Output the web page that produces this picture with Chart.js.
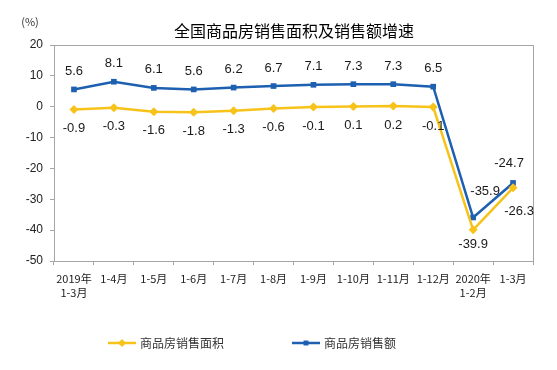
<!DOCTYPE html>
<html>
<head>
<meta charset="utf-8">
<script src="https://cdn.jsdelivr.net/npm/chart.js@4.4.1/dist/chart.umd.min.js"></script>
<style>
    html, body { margin: 0; padding: 0; background: #fff; }
    #wrap { width: 557px; height: 370px; }
</style>
</head>
<body>
<div id="wrap"><canvas id="myChart" width="557" height="370"></canvas></div>
<script>
var Months = [['2019年', '1-3月'], '1-4月', '1-5月', '1-6月', '1-7月', '1-8月', '1-9月', '1-10月', '1-11月', '1-12月', ['2020年', '1-2月'], '1-3月'];
var AreaGrowth = [-0.9, -0.3, -1.6, -1.8, -1.3, -0.6, -0.1, 0.1, 0.2, -0.1, -39.9, -26.3];
var SalesGrowth = [5.6, 8.1, 6.1, 5.6, 6.2, 6.7, 7.1, 7.3, 7.3, 6.5, -35.9, -24.7];
var YTicks = [20, 10, 0, -10, -20, -30, -40, -50];

var TITLE = '全国商品房销售面积及销售额增速';
var AREA_NAME = '商品房销售面积';
var SALES_NAME = '商品房销售额';

var YELLOW = '#F7C31A';
var BLUE = '#1D5FB0';
var AXIS = '#A6A6A6';
var CJK = '"Noto Sans CJK SC", "Noto Sans", sans-serif';
var LATIN = '"Liberation Sans", Arial, sans-serif';

// value labels, title, (%) and legend
const extras = {
    id: 'extras',
    afterDatasetsDraw(chart) {
        const ctx = chart.ctx;
        const area = chart.chartArea;
        ctx.save();

        // plot box
        ctx.strokeStyle = AXIS;
        ctx.lineWidth = 1;
        ctx.strokeRect(Math.round(area.left) + 0.5, Math.round(area.top) + 0.5,
            Math.round(area.right - area.left), Math.round(area.bottom - area.top));

        // value labels
        ctx.font = '13px ' + LATIN;
        ctx.fillStyle = '#1a1a1a';
        ctx.textAlign = 'center';
        ctx.textBaseline = 'middle';
        const last = Months.length - 1;
        chart.getDatasetMeta(1).data.forEach(function (pt, i) {
            let dx = 0, dy = -18;
            if (i === last - 1) { dx = 12; dy = -26; }
            if (i === last) { dx = -4; dy = -20; }
            ctx.fillText(SalesGrowth[i].toFixed(1), pt.x + dx, pt.y + dy);
        });
        chart.getDatasetMeta(0).data.forEach(function (pt, i) {
            let dx = 0, dy = 19;
            if (i === last - 1) { dy = 15; }
            if (i === last) { dx = 6; dy = 24; }
            ctx.fillText(AreaGrowth[i].toFixed(1), pt.x + dx, pt.y + dy);
        });

        // title
        ctx.font = '16px ' + CJK;
        ctx.fillStyle = '#000';
        ctx.fillText(TITLE, 294, 31);

        // unit
        ctx.font = '11px ' + CJK;
        ctx.fillStyle = '#333';
        ctx.fillText('(%)', 30, 22);

        // legend
        const items = [
            { x: 108, name: AREA_NAME, color: YELLOW, style: 'rectRot', r: 4 },
            { x: 292, name: SALES_NAME, color: BLUE, style: 'rect', r: 3.5 }
        ];
        items.forEach(function (it) {
            const y = 343;
            ctx.strokeStyle = it.color;
            ctx.lineWidth = 2.5;
            ctx.beginPath();
            ctx.moveTo(it.x, y);
            ctx.lineTo(it.x + 28, y);
            ctx.stroke();
            ctx.fillStyle = it.color;
            Chart.helpers.drawPoint(ctx, { pointStyle: it.style, radius: it.r, rotation: 0 }, it.x + 14, y);
            ctx.font = '12px ' + CJK;
            ctx.fillStyle = '#333';
            ctx.textAlign = 'left';
            ctx.fillText(it.name, it.x + 32, y);
        });
        ctx.restore();
    }
};

function initchart() {
    const data = {
        labels: Months,
        datasets: [
            {
                label: AREA_NAME,
                data: AreaGrowth,
                borderColor: YELLOW,
                backgroundColor: YELLOW,
                borderWidth: 2.5,
                pointStyle: 'rectRot',
                pointRadius: 4.5,
                pointBorderWidth: 0,
                tension: 0
            },
            {
                label: SALES_NAME,
                data: SalesGrowth,
                borderColor: BLUE,
                backgroundColor: BLUE,
                borderWidth: 2.5,
                pointStyle: 'rect',
                pointRadius: 4,
                pointBorderWidth: 0,
                tension: 0
            }
        ]
    };

    const config = {
        type: 'line',
        data: data,
        plugins: [extras],
        options: {
            responsive: false,
            animation: false,
            layout: { padding: { top: 45, right: 24, left: 0, bottom: 0 } },
            plugins: {
                legend: { display: false },
                title: { display: false },
                tooltip: { enabled: false }
            },
            scales: {
                x: {
                    offset: true,
                    afterFit: function (scale) { scale.height = 109; },
                    grid: {
                        offset: true,
                        drawOnChartArea: false,
                        drawTicks: true,
                        tickLength: 4,
                        color: AXIS
                    },
                    border: { color: AXIS },
                    ticks: {
                        autoSkip: false,
                        maxRotation: 0,
                        padding: 6,
                        color: '#222',
                        font: { family: CJK, size: 11, lineHeight: 1.35 }
                    }
                },
                y: {
                    min: -50,
                    max: 20,
                    afterFit: function (scale) { scale.width = 54; },
                    afterBuildTicks: function (scale) {
                        scale.ticks = YTicks.map(function (v) { return { value: v }; });
                    },
                    grid: {
                        drawOnChartArea: false,
                        drawTicks: true,
                        tickLength: 4,
                        color: AXIS
                    },
                    border: { color: AXIS },
                    ticks: {
                        padding: 7,
                        color: '#222',
                        font: { family: LATIN, size: 12 }
                    }
                }
            }
        }
    };

    const myChart = new Chart(
        document.getElementById('myChart'),
        config
    );
}

initchart();
</script>
</body>
</html>
